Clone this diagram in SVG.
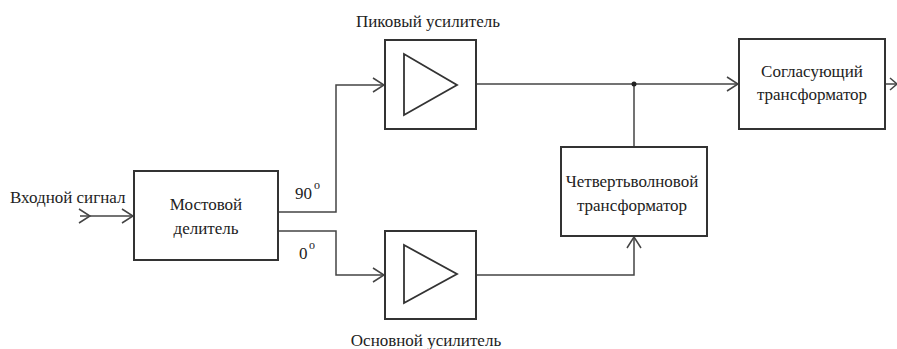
<svg xmlns="http://www.w3.org/2000/svg" width="897" height="349" viewBox="0 0 897 349">
<style>
.box{fill:#fff;stroke:#333;stroke-width:2}
.tri{fill:none;stroke:#333;stroke-width:1.8}
.ln{fill:none;stroke:#444;stroke-width:1.5}
.ah{fill:none;stroke:#444;stroke-width:1.5}
.t{font-family:'Liberation Serif','Times New Roman',serif;font-size:17px;fill:#222}
.c{text-anchor:middle}
</style>
<rect width="897" height="349" fill="#fff"/>
<g id="connectors">
<path class="ln" d="M80,216 H133"/>
<path class="ah" d="M79,209 L90,216 L79,223"/>
<path class="ah" d="M122,209 L133,216 L122,223"/>
<path class="ln" d="M278,212 H336 V85 H384"/>
<path class="ah" d="M373,78 L384,85 L373,92"/>
<path class="ln" d="M278,231 H336 V275 H384"/>
<path class="ah" d="M373,268 L384,275 L373,282"/>
<path class="ln" d="M476,84 H738"/>
<path class="ah" d="M727,77 L738,84 L727,91"/>
<path class="ln" d="M634,84 V147"/>
<circle cx="634" cy="84" r="2.5" fill="#222"/>
<path class="ln" d="M476,275 H634 V237"/>
<path class="ah" d="M627,248 L634,237 L641,248"/>
<path class="ln" d="M885,84 H897"/>
<path class="ah" d="M890,78 L897,84 L890,90"/>
</g>
<g id="input-label"><text class="t" x="10" y="203">Входной сигнал</text></g>
<g id="bridge-divider">
<rect class="box" x="134" y="171" width="144" height="89"/>
<text class="t c" x="206" y="210">Мостовой</text>
<text class="t c" x="206" y="234">делитель</text>
</g>
<g id="label-90"><text class="t" x="295" y="199">90</text><text class="t" x="314" y="189" style="font-size:12px">o</text></g>
<g id="label-0"><text class="t" x="299" y="259">0</text><text class="t" x="309" y="249" style="font-size:12px">o</text></g>
<g id="peak-amp">
<text class="t c" x="428" y="27">Пиковый усилитель</text>
<rect class="box" x="385" y="40" width="91" height="89"/>
<path class="tri" d="M404,54 V115 L457,85 Z"/>
</g>
<g id="main-amp">
<rect class="box" x="385" y="231" width="91" height="88"/>
<path class="tri" d="M404,245 V303 L457,274 Z"/>
<text class="t c" x="426" y="346">Основной усилитель</text>
</g>
<g id="quarter-wave">
<rect class="box" x="561" y="147" width="146" height="89"/>
<text class="t c" x="632" y="187">Четвертьволновой</text>
<text class="t c" x="632" y="211">трансформатор</text>
</g>
<g id="matching">
<rect class="box" x="739" y="39" width="146" height="90"/>
<text class="t c" x="812" y="77">Согласующий</text>
<text class="t c" x="812" y="100">трансформатор</text>
</g>
</svg>
